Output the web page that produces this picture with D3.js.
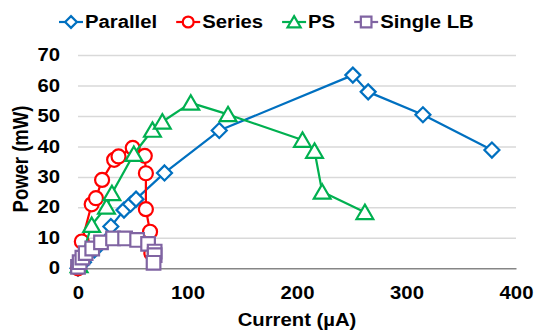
<!DOCTYPE html>
<html>
<head>
<meta charset="utf-8">
<script src="https://cdn.jsdelivr.net/npm/d3@7"></script>
<style>
  html, body { margin: 0; padding: 0; background: #fff; }
  svg text { font-family: "Liberation Sans", Arial, sans-serif; font-weight: bold; fill: #000; }
</style>
</head>
<body>
<svg id="chart" width="536" height="333"></svg>
<script>
// Power vs current for four load configurations (current in µA, power in mW)
const seriesNames = ["Parallel", "Series", "PS", "Single LB"];

const parallelCurrent = [0, 5, 15, 30, 42, 48, 53, 79, 129, 251, 265, 315, 378];
const parallelPower   = [0, 2, 6, 13.7, 19.1, 21, 22.7, 31.3, 45.2, 63.4, 57.9, 50.4, 38.8];

const seriesCurrent = [0, 3.5, 12.5, 16.4, 22, 33, 37, 50, 61, 62, 62, 65.8, 67];
const seriesPower   = [0, 8.8, 21, 23, 29, 35.6, 36.7, 39.5, 36.9, 31.2, 19.4, 12, 5];

const psCurrent = [1, 12.5, 26, 31, 51, 68, 77, 103, 137, 205, 216, 223, 262];
const psPower   = [1, 14.2, 20.2, 24.6, 37.5, 45.4, 48.1, 54.3, 50.5, 42.1, 38.5, 25.1, 18.4];

const singleCurrent = [0, 1.5, 4, 7, 13, 21, 32, 43, 54, 64, 70, 70, 69];
const singlePower   = [0.5, 2, 3.5, 5, 6.5, 8.5, 9.8, 9.8, 9.3, 8, 5.5, 4.3, 1.8];

const xTicks = [0, 100, 200, 300, 400];
const yTicks = [0, 10, 20, 30, 40, 50, 60, 70];

const xTitle = "Current (µA)";
const yTitle = "Power (mW)";

// ---- layout ----
const plot = { left: 78, right: 516, top: 55, bottom: 268.3 };
const stretch = 1.16;   // horizontal widening of all lettering
const fontSize = 17.5;

const svg = d3.select("#chart");

const x = d3.scaleLinear().domain([0, 400]).range([plot.left, plot.right]);
const y = d3.scaleLinear().domain([0, 70]).range([plot.bottom, plot.top]);

// gridlines
const grid = svg.append("g")
  .attr("transform", `translate(${plot.left},0)`)
  .call(d3.axisLeft(y).tickValues(yTicks.filter(v => v > 0)).tickSize(-(plot.right - plot.left)).tickFormat(""));
grid.select(".domain").remove();
grid.selectAll(".tick line").attr("stroke", "#D9D9D9").attr("stroke-width", 1.5);

// horizontal axis
const xAxis = svg.append("g")
  .attr("transform", `translate(0,${plot.bottom})`)
  .call(d3.axisBottom(x).tickValues(xTicks).tickSize(0).tickPadding(18.3));
xAxis.select(".domain").attr("stroke", "#868686").attr("stroke-width", 1.5);
xAxis.selectAll(".tick text")
  .attr("font-size", fontSize)
  .attr("transform", `scale(${stretch},1)`);

// vertical axis labels (no axis line)
const yAxis = svg.append("g")
  .attr("transform", `translate(${plot.left},0)`)
  .call(d3.axisLeft(y).tickValues(yTicks).tickSize(0).tickPadding(18));
yAxis.select(".domain").remove();
yAxis.selectAll(".tick text")
  .attr("font-size", fontSize)
  .attr("x", -18 / stretch)
  .attr("transform", `scale(${stretch},1)`);
xAxis.attr("font-family", null);
yAxis.attr("font-family", null);

// axis titles
svg.append("text")
  .attr("text-anchor", "middle")
  .attr("font-size", fontSize)
  .attr("transform", `translate(297,326) scale(${stretch},1)`)
  .text(xTitle);

svg.append("text")
  .attr("text-anchor", "middle")
  .attr("font-size", 18.5)
  .attr("transform", `translate(28,159) scale(${stretch},1) rotate(-90)`)
  .text(yTitle);

// marker shapes
function diamond(s) { return `M0,${-s}L${s},0L0,${s}L${-s},0Z`; }
function circle(s) { return `M${s},0A${s},${s} 0 1,1 ${-s},0A${s},${s} 0 1,1 ${s},0Z`; }
function triangle(s) { return `M0,${-s * 0.95}L${s * 1.05},${s * 0.85}L${-s * 1.05},${s * 0.85}Z`; }
function square(s) { return `M${-s},${-s}H${s}V${s}H${-s}Z`; }

const series = [
  { name: seriesNames[0], xs: parallelCurrent, ys: parallelPower, color: "#0070C0", shape: diamond, size: 7.5 },
  { name: seriesNames[1], xs: seriesCurrent,   ys: seriesPower,   color: "#FF0000", shape: circle,  size: 7 },
  { name: seriesNames[2], xs: psCurrent,       ys: psPower,       color: "#00B050", shape: triangle, size: 8 },
  { name: seriesNames[3], xs: singleCurrent,   ys: singlePower,   color: "#8064A2", shape: square,  size: 6.8 }
];

const line = d3.line().x(d => x(d[0])).y(d => y(d[1]));

series.forEach(s => {
  const pts = s.xs.map((v, i) => [v, s.ys[i]]);
  const g = svg.append("g");
  g.append("path")
    .attr("d", line(pts))
    .attr("fill", "none")
    .attr("stroke", s.color)
    .attr("stroke-width", 2.2)
    .attr("stroke-linejoin", "round");
  g.selectAll("path.m")
    .data(pts)
    .join("path")
    .attr("class", "m")
    .attr("d", s.shape(s.size))
    .attr("transform", d => `translate(${x(d[0])},${y(d[1])})`)
    .attr("fill", "#fff")
    .attr("stroke", s.color)
    .attr("stroke-width", 2.2);
});

// legend
let lx = 59;
const legendY = 22;
series.forEach(s => {
  const g = svg.append("g");
  g.append("line")
    .attr("x1", lx).attr("x2", lx + 24)
    .attr("y1", legendY).attr("y2", legendY)
    .attr("stroke", s.color).attr("stroke-width", 2.2);
  g.append("path")
    .attr("d", s.shape(s.size * 0.78))
    .attr("transform", `translate(${lx + 12},${legendY})`)
    .attr("fill", "#fff").attr("stroke", s.color).attr("stroke-width", 2.2);
  const t = g.append("text")
    .attr("font-size", fontSize)
    .attr("transform", `translate(${lx + 26},${legendY + 6.3}) scale(${stretch},1)`)
    .text(s.name);
  lx += 26 + t.node().getComputedTextLength() * stretch + 19;
});
</script>
</body>
</html>
